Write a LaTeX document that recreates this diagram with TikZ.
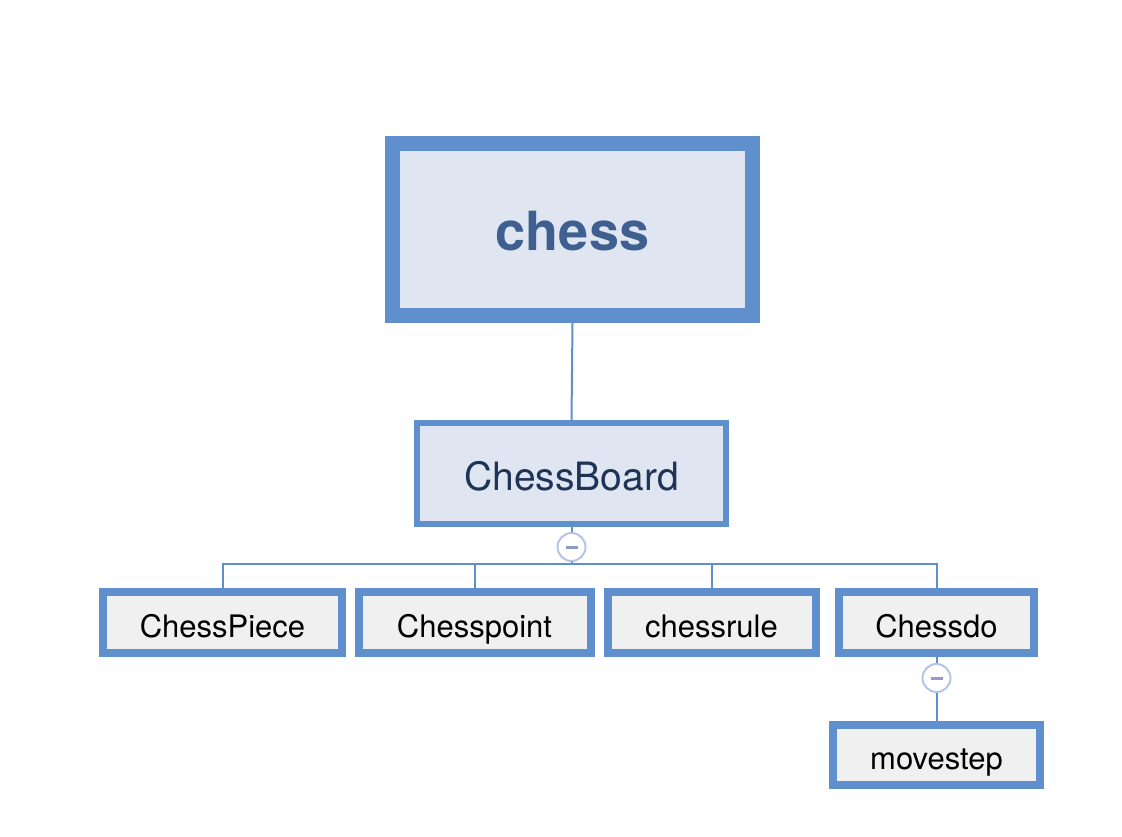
\documentclass[tikz,border=0pt]{standalone}
\usepackage{fontspec}
\setmainfont{TeX Gyre Heros}
\begin{document}
\begin{tikzpicture}[
    x=1pt, y=1pt,
    rootbox/.style={draw=boxblue, fill=rootfill, line width=15pt, rectangle,
                    minimum width=360pt, minimum height=172pt,
                    text height=41pt, text depth=0pt,
                    font=\fontsize{54}{60}\selectfont\bfseries, text=roottext},
    midbox/.style={draw=boxblue, fill=rootfill, line width=6pt, rectangle,
                   minimum width=309pt, minimum height=101pt,
                   text height=33pt, text depth=0pt,
                   font=\fontsize{39}{44}\selectfont, text=midtext},
    leafbox/.style={draw=boxblue, fill=leaffill, line width=8pt, rectangle,
                    minimum height=61pt, inner sep=0pt,
                    text height=29pt, text depth=0pt,
                    font=\fontsize{31}{36}\selectfont, text=black},
    toggle/.style={circle, draw=togglering, line width=2pt, fill=white,
                   minimum size=28pt, inner sep=0pt, text=togglebar},
    link/.style={draw=boxblue, line width=2pt},
  ]
  \definecolor{boxblue}{RGB}{96,143,206}
  \definecolor{rootfill}{RGB}{223,230,241}
  \definecolor{leaffill}{RGB}{240,240,240}
  \definecolor{roottext}{RGB}{62,95,143}
  \definecolor{midtext}{RGB}{30,52,86}
  \definecolor{togglering}{RGB}{180,195,232}
  \definecolor{togglebar}{RGB}{142,156,200}

  \useasboundingbox (0,0) rectangle (1122,-836);

  %% ================================================================
  %% Root and first level
  %% ================================================================
  \node[rootbox] (chess) at (572.5, -229.5) {chess};
  \node[midbox]  (board) at (571.5, -473.5) {ChessBoard};

  \draw[link] (chess.south) -- (board.north);

  %% ================================================================
  %% Children of ChessBoard
  %% ================================================================
  \node[toggle] (tog1) at (571.5, -547) {\rule{12pt}{3pt}};
  \coordinate (bus) at (571.5, -564);

  \node[leafbox, minimum width=239pt] (piece) at (222.5, -622.5) {ChessPiece};
  \node[leafbox, minimum width=232pt] (point) at (474.5, -622.5) {Chesspoint};
  \node[leafbox, minimum width=208pt] (rule)  at (711.5, -622.5) {chessrule};
  \node[leafbox, minimum width=195pt] (cdo)   at (936.5, -622.5) {Chessdo};

  \draw[link] (board.south) -- (tog1.north);
  \draw[link] (tog1.south) -- (bus);
  \foreach \kid in {piece, point, rule, cdo}
    \draw[link] (bus) -| (\kid.north);

  %% ================================================================
  %% Child of Chessdo
  %% ================================================================
  \node[toggle] (tog2) at (936.5, -678) {\rule{12pt}{3pt}};
  \node[leafbox, minimum width=207pt, minimum height=60pt] (move)
    at (936.5, -755) {movestep};

  \draw[link] (cdo.south) -- (tog2.north);
  \draw[link] (tog2.south) -- (move.north);

  \end{tikzpicture}
\end{document}
